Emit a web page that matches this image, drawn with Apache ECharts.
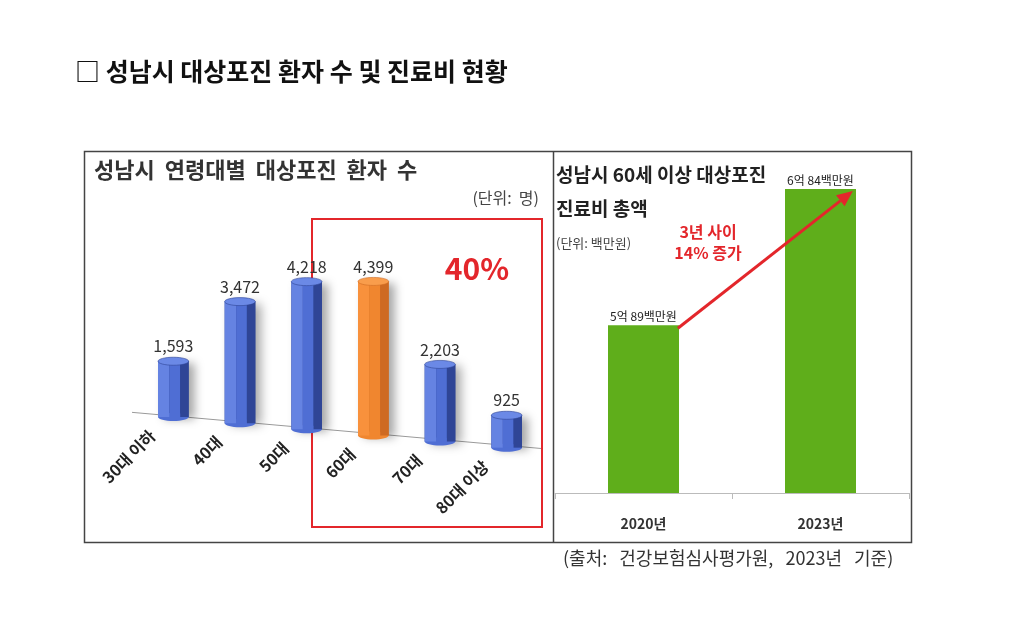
<!DOCTYPE html>
<html>
<head>
<meta charset="utf-8">
<script src="https://cdn.jsdelivr.net/npm/echarts@6/dist/echarts.min.js"></script>
<style>
  html, body { margin: 0; padding: 0; background: #fff; }
  #main { width: 1024px; height: 639px; }
</style>
</head>
<body>
<div id="main"></div>
<script>
var ageGroups = ['30대 이하', '40대', '50대', '60대', '70대', '80대 이상'];
var patients = [1593, 3472, 4218, 4399, 2203, 925];
var years = ['2020년', '2023년'];
var costs = [589, 684]; // 백만원

var FONT = '"Noto Sans CJK KR", "Noto Sans", sans-serif';
var HIGHLIGHT = 3;      // 60대
var SLANT = 0.092;      // perspective tilt of the floor line
var BLUE = { light: '#6583E2', main: '#4F6ED4', dark: '#2F4596', top: '#6B89E6' };
var ORANGE = { light: '#F8913C', main: '#F0862F', dark: '#CE6A22', top: '#F99D4C' };
var RED = '#E3262B';

var myChart = echarts.init(document.getElementById('main'));

function prism(params, api) {
    var i = params.dataIndex;
    var cs = params.coordSys;
    var x0 = api.coord([0, 0])[0];
    var base = api.coord([i, 0]);
    var top = api.coord([i, api.value(1)]);
    var s = (base[0] - x0) * SLANT;
    var x = base[0], yb = base[1] + s, yt = top[1] + s;
    var r = api.size([1, 0])[0] * 0.23, ry = 4;
    var c = i === HIGHLIGHT ? ORANGE : BLUE;
    var kids = [];
    if (i === 0) {
        var gx1 = cs.x - 8, gx2 = cs.x + cs.width + 1;
        kids.push({
            type: 'line',
            shape: { x1: gx1, y1: base[1] - 1 + (gx1 - x0) * SLANT * 0.96, x2: gx2, y2: base[1] - 1 + (gx2 - x0) * SLANT * 0.96 },
            style: { stroke: '#9a9a9a', lineWidth: 1 }
        });
    }
    kids.push({
        type: 'rect',
        shape: { x: x - r, y: yt, width: 2 * r, height: yb - yt },
        style: { fill: c.dark, shadowBlur: 10, shadowOffsetX: 6, shadowOffsetY: 2, shadowColor: 'rgba(0,0,0,0.35)' }
    });
    kids.push({ type: 'ellipse', shape: { cx: x, cy: yb, rx: r, ry: ry }, style: { fill: c.main } });
    kids.push({ type: 'rect', shape: { x: x - r, y: yt, width: r * 0.75, height: yb - yt }, style: { fill: c.light } });
    kids.push({ type: 'rect', shape: { x: x - r * 0.25, y: yt, width: r * 0.7, height: yb - yt }, style: { fill: c.main } });
    kids.push({ type: 'rect', shape: { x: x + r * 0.45, y: yt, width: r * 0.55, height: yb - yt }, style: { fill: c.dark } });
    kids.push({ type: 'ellipse', shape: { cx: x, cy: yt, rx: r, ry: ry }, style: { fill: c.top, stroke: c.dark, lineWidth: 0.6 } });
    kids.push({
        type: 'text', x: x, y: yt - 15,
        style: { text: api.value(1).toLocaleString('en-US'), font: '16px ' + FONT, fill: '#333', align: 'center', verticalAlign: 'middle' }
    });
    kids.push({
        type: 'text', x: x - 21, y: yb + 16, rotation: Math.PI / 4,
        style: { text: ageGroups[i], font: 'bold 16px ' + FONT, fill: '#222', align: 'right', verticalAlign: 'middle' }
    });
    return { type: 'group', children: kids };
}

function arrow(params, api) {
    var hw = api.size([1, 0])[0] * 0.2;
    var p1 = api.coord([api.value(0), api.value(1)]);
    var p2 = api.coord([api.value(2), api.value(3)]);
    var sx = p1[0] + hw - 1, sy = p1[1] + 3;
    var ex = p2[0] + hw - 3, ey = p2[1] + 2;
    var ang = Math.atan2(ey - sy, ex - sx);
    var L = 16, W = 7;
    var bx = ex - L * Math.cos(ang), by = ey - L * Math.sin(ang);
    var nx = -Math.sin(ang) * W, ny = Math.cos(ang) * W;
    return {
        type: 'group',
        children: [
            { type: 'line', shape: { x1: sx, y1: sy, x2: bx, y2: by }, style: { stroke: RED, lineWidth: 3 } },
            { type: 'polygon', shape: { points: [[ex, ey], [bx + nx, by + ny], [bx - nx, by - ny]] }, style: { fill: RED } }
        ]
    };
}

var option = {
    animation: false,
    textStyle: { fontFamily: FONT },
    grid: [
        { left: 140, width: 400, top: 207, bottom: 222 },
        { left: 555, right: 115, top: 166, bottom: 146 }
    ],
    xAxis: [
        { gridIndex: 0, type: 'category', data: ageGroups, show: false },
        {
            gridIndex: 1, type: 'category', data: years,
            axisLine: { lineStyle: { color: '#bbb' } },
            axisTick: { show: true, length: 6, lineStyle: { color: '#bbb' } },
            axisLabel: { margin: 24, fontSize: 14, fontWeight: 'bold', color: '#333', fontFamily: FONT }
        }
    ],
    yAxis: [
        { gridIndex: 0, type: 'value', min: 0, max: 6000, show: false },
        { gridIndex: 1, type: 'value', min: 472, max: 700, show: false }
    ],
    series: [
        {
            type: 'custom', xAxisIndex: 0, yAxisIndex: 0,
            renderItem: prism,
            data: patients.map(function (v, i) { return [i, v]; })
        },
        {
            type: 'bar', xAxisIndex: 1, yAxisIndex: 1,
            barWidth: 71,
            itemStyle: { color: '#5FAE1B' },
            label: {
                show: true, position: 'top', distance: 3,
                fontSize: 12, color: '#222', fontFamily: FONT,
                formatter: function (p) { return Math.floor(p.value / 100) + '억 ' + (p.value % 100) + '백만원'; }
            },
            data: costs
        },
        {
            type: 'custom', xAxisIndex: 1, yAxisIndex: 1,
            renderItem: arrow,
            encode: { x: [0, 2], y: [1, 3] },
            z: 5,
            data: [[0, costs[0], 1, costs[1]]]
        }
    ],
    graphic: [
        { type: 'text', x: 75, y: 71, style: { text: '□ 성남시 대상포진 환자 수 및 진료비 현황', font: 'bold 25px ' + FONT, fill: '#111', verticalAlign: 'middle' } },
        { type: 'rect', shape: { x: 84.5, y: 151.5, width: 827, height: 391 }, style: { fill: 'none', stroke: '#444', lineWidth: 1.5 } },
        { type: 'line', shape: { x1: 553.5, y1: 151.5, x2: 553.5, y2: 542.5 }, style: { stroke: '#444', lineWidth: 1.5 } },
        { type: 'text', x: 94, y: 170, style: { text: '성남시  연령대별  대상포진  환자  수', font: 'bold 22px ' + FONT, fill: '#333', verticalAlign: 'middle' } },
        { type: 'text', x: 539, y: 198, style: { text: '(단위:  명)', font: '16px ' + FONT, fill: '#444', align: 'right', verticalAlign: 'middle' } },
        { type: 'rect', shape: { x: 312, y: 219, width: 230, height: 308 }, style: { fill: 'none', stroke: RED, lineWidth: 2 } },
        { type: 'text', x: 477, y: 269, style: { text: '40%', font: 'bold 30px ' + FONT, fill: RED, align: 'center', verticalAlign: 'middle' } },
        { type: 'text', x: 556, y: 175, style: { text: '성남시 60세 이상 대상포진', font: 'bold 19px ' + FONT, fill: '#222', verticalAlign: 'middle' } },
        { type: 'text', x: 556, y: 209, style: { text: '진료비 총액', font: 'bold 19px ' + FONT, fill: '#222', verticalAlign: 'middle' } },
        { type: 'text', x: 556, y: 243, style: { text: '(단위: 백만원)', font: '13px ' + FONT, fill: '#444', verticalAlign: 'middle' } },
        { type: 'text', x: 708, y: 242, style: { text: '3년 사이\n14% 증가', font: 'bold 16px ' + FONT, fill: RED, align: 'center', verticalAlign: 'middle', lineHeight: 21 } },
        { type: 'text', x: 563, y: 558, style: { text: '(출처:   건강보험심사평가원,   2023년   기준)', font: '18px ' + FONT, fill: '#333', verticalAlign: 'middle' } }
    ]
};
myChart.setOption(option);
</script>
</body>
</html>
